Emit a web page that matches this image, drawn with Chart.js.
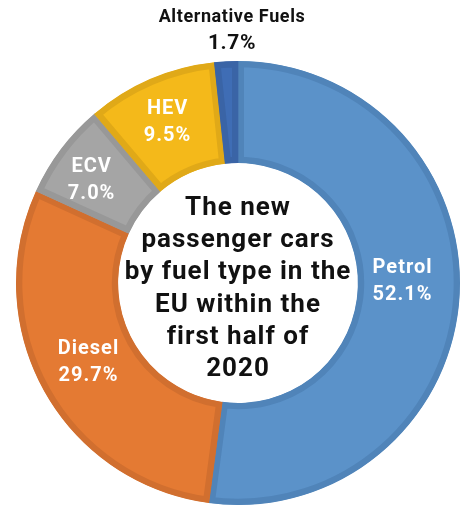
<!DOCTYPE html>
<html>
<head>
<meta charset="utf-8">
<script src="https://cdn.jsdelivr.net/npm/chart.js@4.4.1/dist/chart.umd.min.js"></script>
<style>
  html, body { margin: 0; padding: 0; background: #fff; }
  #wrap { width: 468px; height: 507px; position: relative; }
</style>
</head>
<body>
<div id="wrap"><canvas id="fuelChart" width="468" height="507"></canvas></div>
<script>
// --- DONNEES ---
const fuelLabels = ['Petrol', 'Diesel', 'ECV', 'HEV', 'Alternative Fuels'];
const fuelShares = [52.1, 29.7, 7.0, 9.5, 1.7];
const fillColors = ['#5B92C9', '#E47A33', '#A5A5A5', '#F4B91A', '#3F6DB5'];
const edgeColors = ['#5084B9', '#D16F2F', '#989898', '#E0A918', '#3A64A6'];
const centerTitle = ['The new', 'passenger cars', 'by fuel type in the', 'EU within the', 'first half of', '2020'];

const FONT = 'Roboto, "DejaVu Sans", sans-serif';

// petits decalages des etiquettes (x, y) pour coller a l'original
const labelShift = [[-6, -13], [0, -4], [-10, 0], [-3, -4], [0, 0]];

// --- ETIQUETTES SUR LES PARTS + TITRE CENTRAL ---
const sliceLabels = {
    id: 'sliceLabels',
    afterDatasetsDraw(chart) {
        const ctx = chart.ctx;
        const arcs = chart.getDatasetMeta(0).data;
        ctx.save();
        ctx.textAlign = 'center';
        ctx.textBaseline = 'middle';

        arcs.forEach((arc, i) => {
            const mid = (arc.startAngle + arc.endAngle) / 2;
            const pct = fuelShares[i].toFixed(1) + '%';
            if (i === 4) {
                // petite part : texte a l'exterieur, au-dessus
                const x = arc.x - 6;
                ctx.fillStyle = '#111';
                ctx.letterSpacing = '0.6px';
                ctx.font = 'bold 18px ' + FONT;
                ctx.fillText(fuelLabels[i], x, 17);
                ctx.font = 'bold 21px ' + FONT;
                ctx.fillText(pct, x, 44);
                return;
            }
            const r = (arc.innerRadius + arc.outerRadius) / 2;
            const x = arc.x + Math.cos(mid) * r + labelShift[i][0];
            const y = arc.y + Math.sin(mid) * r + labelShift[i][1];
            ctx.fillStyle = '#fff';
            ctx.letterSpacing = '1px';
            ctx.font = 'bold 20px ' + FONT;
            ctx.fillText(fuelLabels[i], x, y - 13);
            ctx.fillText(pct, x, y + 14);
        });

        // titre au centre
        const cx = arcs[0].x, cy = arcs[0].y;
        ctx.fillStyle = '#111';
        ctx.letterSpacing = '1px';
        ctx.font = 'bold 26px ' + FONT;
        const lh = 32.3;
        centerTitle.forEach((line, k) => {
            ctx.fillText(line, cx, cy + 6 + (k - (centerTitle.length - 1) / 2) * lh);
        });
        ctx.restore();
    }
};

new Chart(document.getElementById('fuelChart'), {
    type: 'doughnut',
    data: {
        labels: fuelLabels,
        datasets: [{
            data: fuelShares,
            backgroundColor: fillColors,
            borderColor: edgeColors,
            borderWidth: 6,
            borderAlign: 'inner'
        }]
    },
    options: {
        responsive: false,
        animation: false,
        cutout: '54%',
        layout: { padding: { left: 16, right: 8, top: 61, bottom: 2 } },
        plugins: {
            legend: { display: false },
            tooltip: { enabled: false }
        }
    },
    plugins: [sliceLabels]
});
</script>
</body>
</html>
